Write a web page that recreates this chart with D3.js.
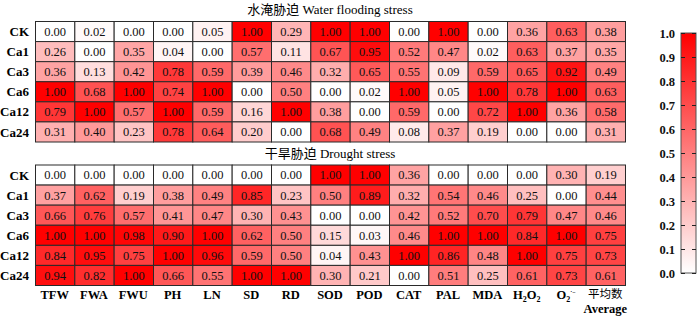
<!DOCTYPE html>
<html>
<head>
<meta charset="utf-8">
<script src="https://cdn.jsdelivr.net/npm/d3@7"></script>
<style>
  body { margin: 0; background: #fff; }
  svg text { font-family: "Liberation Serif", "Times New Roman", "Noto Sans CJK SC", serif; }
</style>
</head>
<body>
<div class="chart"></div>
<script>
// 行・列のラベル
var rows = ["CK", "Ca1", "Ca3", "Ca6", "Ca12", "Ca24"];
var cols = ["TFW", "FWA", "FWU", "PH", "LN", "SD", "RD", "SOD", "POD", "CAT", "PAL", "MDA", "H2O2", "O2", "Average"];

// 水淹胁迫 Water flooding stress
var flooding = [
  [0.00, 0.02, 0.00, 0.00, 0.05, 1.00, 0.29, 1.00, 1.00, 0.00, 1.00, 0.00, 0.36, 0.63, 0.38],
  [0.26, 0.00, 0.35, 0.04, 0.00, 0.57, 0.11, 0.67, 0.95, 0.52, 0.47, 0.02, 0.63, 0.37, 0.35],
  [0.36, 0.13, 0.42, 0.78, 0.59, 0.39, 0.46, 0.32, 0.65, 0.55, 0.09, 0.59, 0.65, 0.92, 0.49],
  [1.00, 0.68, 1.00, 0.74, 1.00, 0.00, 0.50, 0.00, 0.02, 1.00, 0.05, 1.00, 0.78, 1.00, 0.63],
  [0.79, 1.00, 0.57, 1.00, 0.59, 0.16, 1.00, 0.38, 0.00, 0.59, 0.00, 0.72, 1.00, 0.36, 0.58],
  [0.31, 0.40, 0.23, 0.78, 0.64, 0.20, 0.00, 0.68, 0.49, 0.08, 0.37, 0.19, 0.00, 0.00, 0.31]
];

// 干旱胁迫 Drought stress
var drought = [
  [0.00, 0.00, 0.00, 0.00, 0.00, 0.00, 0.00, 1.00, 1.00, 0.36, 0.00, 0.00, 0.00, 0.30, 0.19],
  [0.37, 0.62, 0.19, 0.38, 0.49, 0.85, 0.23, 0.50, 0.89, 0.32, 0.54, 0.46, 0.25, 0.00, 0.44],
  [0.66, 0.76, 0.57, 0.41, 0.47, 0.30, 0.43, 0.00, 0.00, 0.42, 0.52, 0.70, 0.79, 0.47, 0.46],
  [1.00, 1.00, 0.98, 0.90, 1.00, 0.62, 0.50, 0.15, 0.03, 0.46, 1.00, 1.00, 0.84, 1.00, 0.75],
  [0.84, 0.95, 0.75, 1.00, 0.96, 0.59, 0.50, 0.04, 0.43, 1.00, 0.86, 0.48, 1.00, 0.75, 0.73],
  [0.94, 0.82, 1.00, 0.66, 0.55, 1.00, 1.00, 0.30, 0.21, 0.00, 0.51, 0.25, 0.61, 0.73, 0.61]
];

var colorTicks = [0.0, 0.1, 0.2, 0.3, 0.4, 0.5, 0.6, 0.7, 0.8, 0.9, 1.0];

var W = 700, H = 318;
var svg = d3.select("div.chart").append("svg")
    .attr("width", W).attr("height", H);

// 目盛りの設定
var x = d3.scaleBand().domain(cols).range([35, 625]);
var color = d3.scaleLinear().domain([0, 1]).range(["#ffffff", "#ff0000"]);

function panel(data, top, title) {
    var y = d3.scaleBand().domain(rows).range([top, top + 120.5]);
    var g = svg.append("g");

    g.append("text")
        .attr("x", 330).attr("y", top - 7)
        .attr("text-anchor", "middle")
        .style("font-size", "13px")
        .text(title);

    var cells = [];
    data.forEach(function(r, i) {
        r.forEach(function(v, j) { cells.push({row: rows[i], col: cols[j], v: v}); });
    });

    g.selectAll("rect.cell").data(cells).enter()
        .append("rect")
        .attr("class", "cell")
        .attr("x", function(d) { return x(d.col) + 0.5; })
        .attr("y", function(d) { return y(d.row) + 0.5; })
        .attr("width", x.bandwidth())
        .attr("height", y.bandwidth())
        .attr("fill", function(d) { return color(d.v); })
        .attr("stroke", "#2a2a2a")
        .attr("stroke-width", 1);

    g.selectAll("text.val").data(cells).enter()
        .append("text")
        .attr("class", "val")
        .attr("x", function(d) { return x(d.col) + x.bandwidth() / 2 + 0.5; })
        .attr("y", function(d) { return y(d.row) + y.bandwidth() / 2 + 0.5; })
        .attr("dy", ".35em")
        .attr("text-anchor", "middle")
        .style("font-size", "12.5px")
        .attr("fill", "#111")
        .text(function(d) { return d3.format(".2f")(d.v); });

    g.selectAll("text.rowlab").data(rows).enter()
        .append("text")
        .attr("class", "rowlab")
        .attr("x", 29)
        .attr("y", function(d) { return y(d) + y.bandwidth() / 2 + 0.5; })
        .attr("dy", ".35em")
        .attr("text-anchor", "end")
        .style("font-size", "13px")
        .style("font-weight", "bold")
        .text(function(d) { return d; });
    return y;
}

panel(flooding, 21, "水淹胁迫 Water flooding stress");
panel(drought, 164.5, "干旱胁迫 Drought stress");

// 列ラベル
var colY = 299;
cols.forEach(function(c) {
    var t = svg.append("text")
        .attr("x", x(c) + x.bandwidth() / 2)
        .attr("y", colY)
        .attr("text-anchor", "middle")
        .style("font-size", "12.5px")
        .style("font-weight", "bold");
    if (c === "H2O2") {
        t.append("tspan").text("H");
        t.append("tspan").attr("dy", 3).style("font-size", "8px").text("2");
        t.append("tspan").attr("dy", -3).text("O");
        t.append("tspan").attr("dy", 3).style("font-size", "8px").text("2");
    } else if (c === "O2") {
        t.append("tspan").text("O");
        t.append("tspan").attr("dy", 3).style("font-size", "8px").text("2");
        t.append("tspan").attr("dy", -8).style("font-size", "6px").text("·−");
    } else if (c === "Average") {
        t.attr("y", colY - 1)
            .style("font-size", "11.5px")
            .style("font-weight", "normal")
            .style("font-family", "'Noto Sans CJK SC', sans-serif")
            .text("平均数");
        svg.append("text")
            .attr("x", x(c) + x.bandwidth() / 2)
            .attr("y", colY + 13.5)
            .attr("text-anchor", "middle")
            .style("font-size", "12.5px")
            .style("font-weight", "bold")
            .text("Average");
    } else {
        t.text(c);
    }
});

// カラーバー
var cbX = 681, cbW = 15, cbTop = 33, cbBot = 273;
var defs = svg.append("defs");
var grad = defs.append("linearGradient")
    .attr("id", "cbgrad")
    .attr("x1", 0).attr("y1", 1).attr("x2", 0).attr("y2", 0);
grad.append("stop").attr("offset", "0%").attr("stop-color", color(0));
grad.append("stop").attr("offset", "100%").attr("stop-color", color(1));

svg.append("rect")
    .attr("x", cbX).attr("y", cbTop)
    .attr("width", cbW).attr("height", cbBot - cbTop)
    .attr("fill", "url(#cbgrad)")
    .attr("stroke", "#555").attr("stroke-width", 1);

var cy = d3.scaleLinear().domain([0, 1]).range([cbBot, cbTop]);
var cAxis = d3.axisLeft(cy)
    .tickValues(colorTicks)
    .tickFormat(d3.format(".1f"))
    .tickSize(-4)
    .tickPadding(6);

var ag = svg.append("g")
    .attr("transform", "translate(" + cbX + ",0)")
    .call(cAxis);
ag.select(".domain").remove();
ag.selectAll("line").attr("stroke", "#222");
ag.selectAll("text")
    .style("font-size", "12.5px")
    .style("font-weight", "bold")
    .style("font-family", "'Liberation Serif', serif")
    .attr("fill", "#111");

// 右側の内向き目盛り
var agR = svg.append("g")
    .attr("transform", "translate(" + (cbX + cbW) + ",0)")
    .call(d3.axisRight(cy).tickValues(colorTicks).tickSize(-4).tickFormat(""));
agR.select(".domain").remove();
agR.selectAll("line").attr("stroke", "#222");
</script>
</body>
</html>
